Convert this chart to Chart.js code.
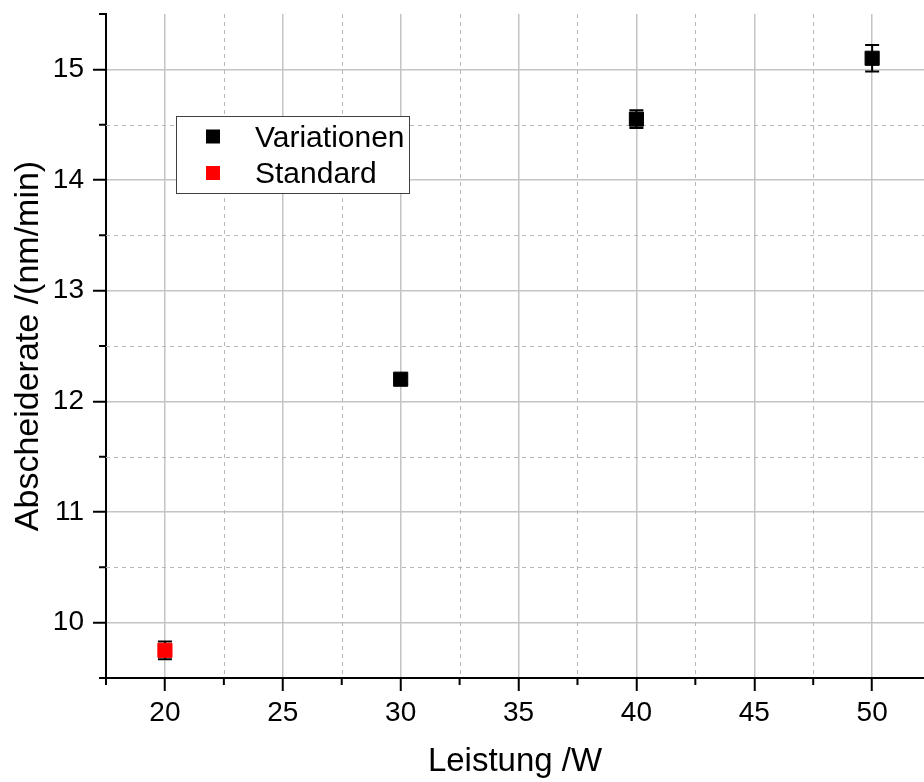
<!DOCTYPE html>
<html>
<head>
<meta charset="utf-8">
<script src="https://cdn.jsdelivr.net/npm/chart.js@4.4.1/dist/chart.umd.min.js"></script>
<style>
  html, body { margin: 0; padding: 0; background: #fff; }
  #wrap { width: 924px; height: 782px; }
</style>
</head>
<body>
<div id="wrap"><canvas id="rate-chart" width="924" height="782"></canvas></div>
<script>
// Leistung (W) vs. Abscheiderate (nm/min), with error bars
const variationPower = [30, 40, 50];
const variationRate = [12.2, 14.55, 15.1];
const variationErr = [0.03, 0.08, 0.12];

const standardPower = [20];
const standardRate = [9.75];
const standardErr = [0.08];

const xMajorTicks = [20, 25, 30, 35, 40, 45, 50];
const xMinorTicks = [17.5, 22.5, 27.5, 32.5, 37.5, 42.5, 47.5];
const yMajorTicks = [10, 11, 12, 13, 14, 15];
const yMinorTicks = [9.5, 10.5, 11.5, 12.5, 13.5, 14.5, 15.5];

const FONT = "'Liberation Sans', Arial, sans-serif";

function toPoints(xs, ys) {
  return xs.map((x, i) => ({ x: x, y: ys[i] }));
}

// dashed minor grid + short minor tick marks
const minorGrid = {
  id: "minorGrid",
  beforeDatasetsDraw(chart) {
    const { ctx, chartArea: a, scales: { x, y } } = chart;
    ctx.save();
    ctx.strokeStyle = "#b8b8b8";
    ctx.lineWidth = 1;
    ctx.setLineDash([4, 4]);
    ctx.beginPath();
    xMinorTicks.forEach((v) => {
      const px = Math.round(x.getPixelForValue(v)) + 0.5;
      if (px > a.left + 2 && px < a.right) {
        ctx.moveTo(px, a.top);
        ctx.lineTo(px, a.bottom);
      }
    });
    yMinorTicks.forEach((v) => {
      const py = Math.round(y.getPixelForValue(v)) + 0.5;
      if (py > a.top + 2 && py < a.bottom - 2) {
        ctx.moveTo(a.left, py);
        ctx.lineTo(a.right, py);
      }
    });
    ctx.stroke();
    ctx.setLineDash([]);
    ctx.strokeStyle = "#000";
    ctx.lineWidth = 2;
    ctx.beginPath();
    xMinorTicks.forEach((v) => {
      const px = x.getPixelForValue(v);
      ctx.moveTo(px, a.bottom);
      ctx.lineTo(px, a.bottom + 7);
    });
    yMinorTicks.forEach((v) => {
      const py = y.getPixelForValue(v);
      ctx.moveTo(a.left, py);
      ctx.lineTo(a.left - 7, py);
    });
    ctx.stroke();
    ctx.restore();
  },
};

const errorBars = {
  id: "errorBars",
  beforeDatasetsDraw(chart) {
    const ctx = chart.ctx;
    const y = chart.scales.y;
    ctx.save();
    ctx.strokeStyle = "#000";
    ctx.lineWidth = 2;
    chart.data.datasets.forEach((ds, di) => {
      const meta = chart.getDatasetMeta(di);
      meta.data.forEach((pt, i) => {
        const v = ds.data[i].y;
        const e = ds.errors[i];
        const top = y.getPixelForValue(v + e);
        const bot = y.getPixelForValue(v - e);
        ctx.beginPath();
        ctx.moveTo(pt.x, top);
        ctx.lineTo(pt.x, bot);
        ctx.moveTo(pt.x - 7, top);
        ctx.lineTo(pt.x + 7, top);
        ctx.moveTo(pt.x - 7, bot);
        ctx.lineTo(pt.x + 7, bot);
        ctx.stroke();
      });
    });
    ctx.restore();
  },
};

// boxed legend inside the plot
const boxLegend = {
  id: "boxLegend",
  afterDraw(chart) {
    const ctx = chart.ctx;
    ctx.save();
    ctx.fillStyle = "#fff";
    ctx.fillRect(176, 116, 233, 77);
    ctx.strokeStyle = "#404040";
    ctx.lineWidth = 1;
    ctx.strokeRect(176.5, 116.5, 233, 77);
    ctx.font = "30px " + FONT;
    chart.data.datasets.forEach((ds, i) => {
      const cy = 136.5 + i * 36.5;
      ctx.fillStyle = ds.backgroundColor;
      ctx.fillRect(206, cy - 7, 14, 14);
      ctx.fillStyle = "#000";
      ctx.fillText(ds.label, 255, cy + 10);
    });
    ctx.restore();
  },
};

const ctx = document.getElementById("rate-chart").getContext("2d");

new Chart(ctx, {
  type: "scatter",
  data: {
    datasets: [
      {
        label: "Variationen",
        data: toPoints(variationPower, variationRate),
        errors: variationErr,
        backgroundColor: "#000000",
        borderColor: "#000000",
        borderWidth: 1,
        pointStyle: "rect",
        pointRadius: 10,
        pointHoverRadius: 10,
      },
      {
        label: "Standard",
        data: toPoints(standardPower, standardRate),
        errors: standardErr,
        backgroundColor: "#ff0000",
        borderColor: "#ff0000",
        borderWidth: 1,
        pointStyle: "rect",
        pointRadius: 10,
        pointHoverRadius: 10,
      },
    ],
  },
  options: {
    responsive: false,
    animation: false,
    layout: { autoPadding: false, padding: { top: 14, right: 0, bottom: 0, left: 0 } },
    scales: {
      x: {
        type: "linear",
        min: 17.5,
        max: 52.2,
        afterBuildTicks: (axis) => {
          axis.ticks = xMajorTicks.map((v) => ({ value: v }));
        },
        afterFit: (axis) => {
          axis.height = 104;
          axis.paddingLeft = 0;
          axis.paddingRight = 0;
        },
        grid: { color: "#c4c4c4", lineWidth: 1.5, tickColor: "#000", tickLength: 13, tickWidth: 2 },
        border: { color: "#000", width: 2 },
        ticks: { color: "#000", font: { family: FONT, size: 28 }, padding: 5, maxRotation: 0 },
        title: {
          display: true,
          text: "Leistung /W",
          color: "#000",
          font: { family: FONT, size: 33 },
          padding: { top: 0, bottom: 0 },
        },
      },
      y: {
        type: "linear",
        min: 9.5,
        max: 15.5,
        afterBuildTicks: (axis) => {
          axis.ticks = yMajorTicks.map((v) => ({ value: v }));
        },
        afterFit: (axis) => {
          axis.width = 106;
          axis.paddingTop = 0;
          axis.paddingBottom = 0;
        },
        grid: { color: "#c4c4c4", lineWidth: 1.5, tickColor: "#000", tickLength: 13, tickWidth: 2 },
        border: { color: "#000", width: 2 },
        ticks: { color: "#000", font: { family: FONT, size: 28 }, padding: 9 },
        title: {
          display: true,
          text: "Abscheiderate /(nm/min)",
          color: "#000",
          font: { family: FONT, size: 34 },
          padding: { top: 8, bottom: 0 },
        },
      },
    },
    plugins: {
      legend: { display: false },
      tooltip: { enabled: false },
    },
  },
  plugins: [minorGrid, errorBars, boxLegend],
});
</script>
</body>
</html>
